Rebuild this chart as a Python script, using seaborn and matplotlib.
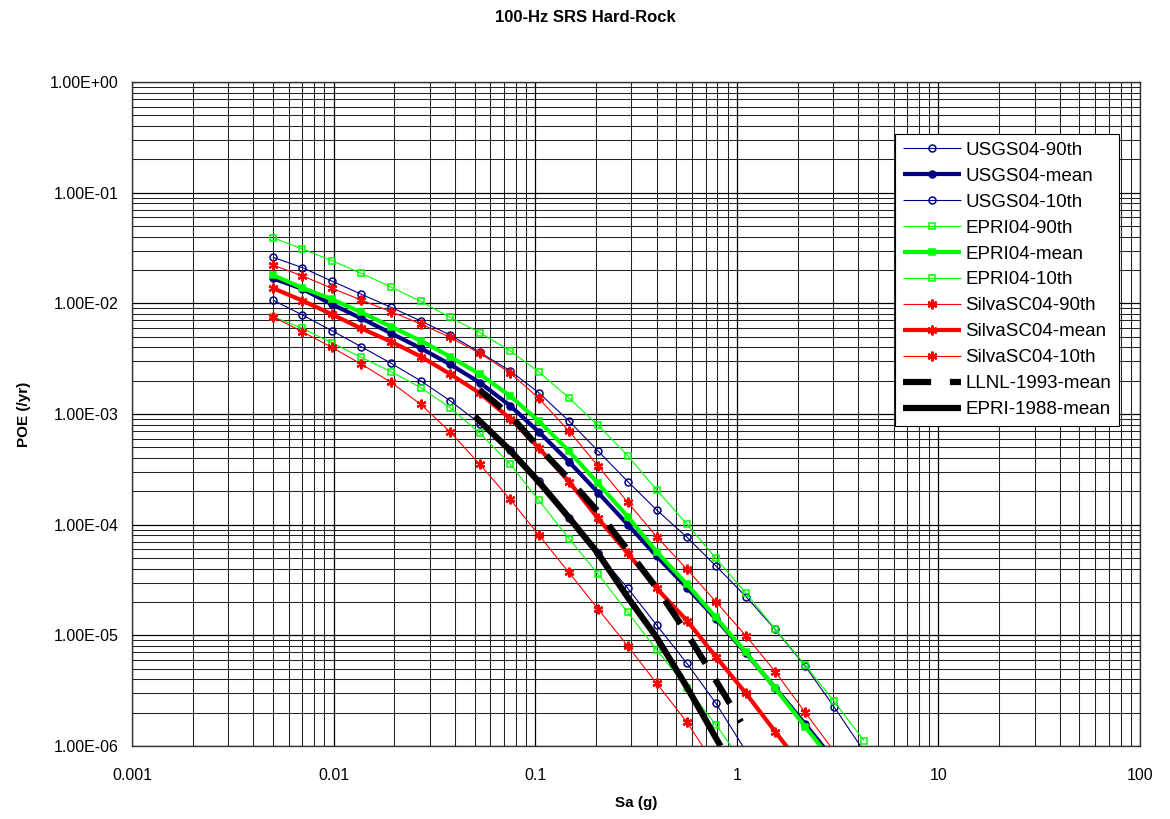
import numpy as np
import pandas as pd
import matplotlib
matplotlib.use("Agg")
import matplotlib.pyplot as plt
import matplotlib.ticker as mticker
import seaborn as sns

# spectral acceleration grid (g)
sa = [0.005, 0.007, 0.0098, 0.0137, 0.0193, 0.0271, 0.0378, 0.0532, 0.075, 0.104, 0.147,
      0.205, 0.288, 0.40, 0.566, 0.788, 1.11, 1.55, 2.18, 3.03, 4.27]

usgs_90 = [0.0261, 0.021, 0.0159, 0.0121, 0.0092, 0.00692, 0.00518, 0.0036, 0.00246, 0.00156, 0.000865,
           0.000463, 0.000245, 0.000136, 7.7e-5, 4.23e-5, 2.24e-5, 1.13e-5, 5.3e-6, 2.27e-6, 9.0e-7]
usgs_mean = [0.0168, 0.0135, 0.0098, 0.00733, 0.00536, 0.00392, 0.00281, 0.00192, 0.00119, 0.000692, 0.000371,
             0.000195, 0.0001, 5.2e-5, 2.7e-5, 1.41e-5, 6.9e-6, 3.35e-6, 1.58e-6, 7.5e-7]
usgs_10 = [0.0107, 0.00785, 0.00566, 0.00406, 0.00287, 0.00199, 0.00132, 0.00082, 0.000473, 0.000248, 0.000116,
           5.5e-5, 2.66e-5, 1.24e-5, 5.58e-6, 2.43e-6, 9.0e-7]

epri_90 = [0.0392, 0.031, 0.0243, 0.0187, 0.014, 0.0104, 0.00748, 0.00543, 0.00373, 0.00241, 0.0014,
           0.00079, 0.00042, 0.000206, 0.000101, 4.97e-5, 2.4e-5, 1.14e-5, 5.4e-6, 2.55e-6, 1.12e-6]
epri_mean = [0.018, 0.0138, 0.0109, 0.0083, 0.00615, 0.00459, 0.0033, 0.00229, 0.00146, 0.000865, 0.000463,
             0.000236, 0.000118, 5.7e-5, 2.89e-5, 1.45e-5, 7.0e-6, 3.32e-6, 1.5e-6, 7.0e-7]
epri_10 = [0.00757, 0.00594, 0.0044, 0.00325, 0.00241, 0.00173, 0.00114, 0.00067, 0.000353, 0.000167, 7.5e-5,
           3.58e-5, 1.61e-5, 7.4e-6, 3.37e-6, 1.55e-6, 6.5e-7]

silva_90 = [0.0222, 0.0177, 0.0137, 0.0107, 0.0084, 0.0065, 0.00493, 0.00353, 0.00236, 0.00139, 0.000702,
            0.000339, 0.000159, 7.8e-5, 3.95e-5, 2.01e-5, 9.9e-6, 4.7e-6, 2.02e-6, 9.0e-7]
silva_mean = [0.0137, 0.0106, 0.00796, 0.00594, 0.0045, 0.0033, 0.0023, 0.00154, 0.00091, 0.000496, 0.000245,
              0.000114, 5.5e-5, 2.66e-5, 1.36e-5, 6.4e-6, 2.99e-6, 1.35e-6, 6.0e-7]
silva_10 = [0.00757, 0.00554, 0.0040, 0.00283, 0.00193, 0.00122, 0.00069, 0.00035, 0.00017, 8.1e-5, 3.7e-5,
            1.73e-5, 8.0e-6, 3.69e-6, 1.64e-6, 6.5e-7]

llnl_sa = [0.053, 0.075, 0.104, 0.147, 0.205, 0.288, 0.40, 0.566, 0.788, 1.05]
llnl_mean = [0.00165, 0.00098, 0.0005, 0.000259, 0.000131, 5.9e-5, 2.68e-5, 1.04e-5, 3.9e-6, 1.65e-6]

epri88_sa = [0.0502, 0.075, 0.104, 0.147, 0.205, 0.288, 0.40, 0.566, 0.83]
epri88_mean = [0.00095, 0.00047, 0.000245, 0.000116, 5.5e-5, 2.2e-5, 9.6e-6, 3.4e-6, 1.0e-6]

x_ticks = [0.001, 0.01, 0.1, 1, 10, 100]
x_labels = ["0.001", "0.01", "0.1", "1", "10", "100"]
y_ticks = [1e-6, 1e-5, 1e-4, 1e-3, 1e-2, 1e-1, 1e0]
y_labels = ["1.00E-06", "1.00E-05", "1.00E-04", "1.00E-03", "1.00E-02", "1.00E-01", "1.00E+00"]

sns.set_style("white")
plt.rcParams["font.family"] = ["Liberation Sans", "DejaVu Sans"]
plt.rcParams["text.color"] = "black"
plt.rcParams["axes.labelcolor"] = "black"
plt.rcParams["xtick.color"] = "black"
plt.rcParams["ytick.color"] = "black"

fig = plt.figure(figsize=(11.7, 8.19), dpi=100)
ax = fig.add_axes([0.1128, 0.0891, 0.8616, 0.8108])

navy, lime, red = "#000080", "#00FF00", "#FF0000"
asterisk = (6, 2, 0)

series = [
    ("USGS04-90th", sa, usgs_90, dict(color=navy, lw=0.8, marker="o", ms=5, mfc="none", mec=navy, mew=1.1)),
    ("USGS04-mean", sa, usgs_mean, dict(color=navy, lw=3, marker="o", ms=5, mfc=navy, mec=navy, mew=1.1)),
    ("USGS04-10th", sa, usgs_10, dict(color=navy, lw=0.8, marker="o", ms=5, mfc="none", mec=navy, mew=1.1)),
    ("EPRI04-90th", sa, epri_90, dict(color=lime, lw=0.8, marker="s", ms=5, mfc="none", mec=lime, mew=1.1)),
    ("EPRI04-mean", sa, epri_mean, dict(color=lime, lw=3, marker="s", ms=5, mfc=lime, mec=lime, mew=1.1)),
    ("EPRI04-10th", sa, epri_10, dict(color=lime, lw=0.8, marker="s", ms=5, mfc="none", mec=lime, mew=1.1)),
    ("SilvaSC04-90th", sa, silva_90, dict(color=red, lw=0.8, marker=asterisk, ms=7, mec=red, mew=1.6)),
    ("SilvaSC04-mean", sa, silva_mean, dict(color=red, lw=3, marker=asterisk, ms=7, mec=red, mew=1.6)),
    ("SilvaSC04-10th", sa, silva_10, dict(color=red, lw=0.8, marker=asterisk, ms=7, mec=red, mew=1.6)),
    ("LLNL-1993-mean", llnl_sa, llnl_mean, dict(color="black", lw=4.5, ls=(0, (4.5, 3)))),
    ("EPRI-1988-mean", epri88_sa, epri88_mean, dict(color="black", lw=4.5)),
]

for name, xs, ys, style in series:
    df = pd.DataFrame({"Sa": xs[:len(ys)], "POE": ys})
    sns.lineplot(data=df, x="Sa", y="POE", ax=ax, label=name, sort=False,
                 solid_capstyle="butt", dash_capstyle="butt", **style)

ax.set_xscale("log")
ax.set_yscale("log")
ax.set_xlim(0.001, 100)
ax.set_ylim(1e-6, 1.0)

ax.xaxis.set_major_locator(mticker.FixedLocator(x_ticks))
ax.xaxis.set_major_formatter(mticker.FixedFormatter(x_labels))
ax.yaxis.set_major_locator(mticker.FixedLocator(y_ticks))
ax.yaxis.set_major_formatter(mticker.FixedFormatter(y_labels))
ax.xaxis.set_minor_locator(mticker.LogLocator(base=10, subs=np.arange(2, 10)))
ax.yaxis.set_minor_locator(mticker.LogLocator(base=10, subs=np.arange(2, 10)))
ax.xaxis.set_minor_formatter(mticker.NullFormatter())
ax.yaxis.set_minor_formatter(mticker.NullFormatter())

ax.grid(which="major", color="black", lw=0.9)
ax.grid(which="minor", color="#222222", lw=0.75)
ax.set_axisbelow(True)
for s in ax.spines.values():
    s.set_color("#333333")
    s.set_linewidth(1.0)
ax.tick_params(which="major", direction="inout", length=7, width=0.9, labelsize=11.5, labelcolor="black")
ax.tick_params(axis="x", which="major", pad=12)
ax.tick_params(axis="y", which="major", pad=6)
ax.tick_params(which="minor", direction="in", length=4, width=0.7)

ax.set_xlabel("Sa (g)", fontsize=11, fontweight="bold", labelpad=10, color="black")
ax.set_ylabel("POE (/yr)", fontsize=11, fontweight="bold", labelpad=14, color="black")
fig.suptitle("100-Hz SRS Hard-Rock", fontsize=12, fontweight="bold", y=0.988, color="black")

leg = ax.legend(loc="upper right", bbox_to_anchor=(0.979, 0.922), fontsize=13.5,
                frameon=True, fancybox=False, edgecolor="black", framealpha=1,
                labelspacing=0.47, handlelength=3.1, handletextpad=0.2, borderpad=0.42,
                borderaxespad=0)
leg.get_frame().set_linewidth(0.8)
for t in leg.get_texts():
    t.set_color("black")

fig.savefig("out.png", dpi=100)
